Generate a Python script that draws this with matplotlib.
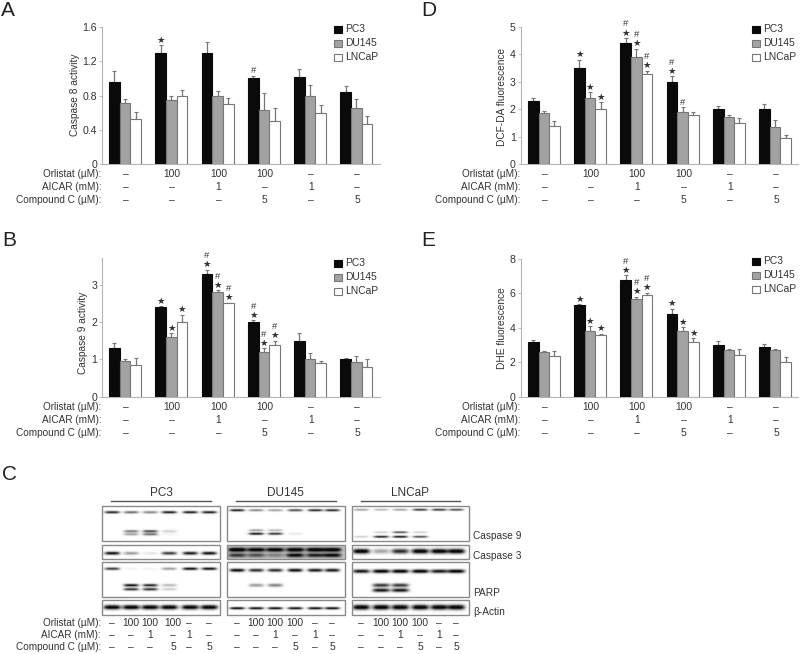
#!/usr/bin/env python3
# -*- coding: utf-8 -*-
"""Five panel figure: caspase activity, ROS fluorescence and western blots."""

import matplotlib
matplotlib.use("Agg")
import matplotlib.pyplot as plt
import numpy as np

plt.rcParams.update({"font.family": ["Liberation Sans", "DejaVu Sans"],
                     "font.size": 7.3, "text.color": "#333333"})

W, H = 800, 654
BLACK = "#0a0a0a"; GREY = "#a2a2a2"; EDGE = "#777777"; AXIS = "#b5b5b5"; INK = "#333333"

SERIES = ["PC3", "DU145", "LNCaP"]
ORLISTAT = ["–", "100", "100", "100", "–", "–"]
AICAR = ["–", "–", "1", "–", "1", "–"]
COMPOUND = ["–", "–", "–", "5", "–", "5"]
ROW_NAMES = ["Orlistat (µM):", "AICAR (mM):", "Compound C (µM):"]

# Panel A
A_VALUES = [[.96, 1.30, 1.30, 1.00, 1.02, .84],
            [.71, .75, .80, .63, .80, .65],
            [.52, .80, .70, .50, .60, .47]]
A_ERRORS = [[.13, .09, .12, .03, .09, .07],
            [.05, .04, .05, .20, .12, .11],
            [.09, .07, .07, .15, .09, .09]]
A_MARKS = [["", "*", "", "#", "", ""], [""] * 6, [""] * 6]
# Panel B
B_VALUES = [[1.30, 2.40, 3.30, 2.00, 1.50, 1.02],
            [.96, 1.60, 2.80, 1.20, 1.02, .94],
            [.84, 2.00, 2.50, 1.40, .90, .80]]
B_ERRORS = [[.15, .03, .10, .05, .20, .03],
            [.05, .10, .05, .10, .15, .15],
            [.20, .20, .02, .10, .05, .20]]
B_MARKS = [["", "*", "*#", "*#", "", ""],
           ["", "*", "*#", "*#", "", ""],
           ["", "*", "*#", "*#", "", ""]]
# Panel D
D_VALUES = [[2.30, 3.50, 4.40, 3.00, 2.00, 2.00],
            [1.85, 2.40, 3.90, 1.90, 1.70, 1.35],
            [1.40, 2.00, 3.30, 1.78, 1.50, .95]]
D_ERRORS = [[.10, .30, .20, .20, .10, .20],
            [.10, .22, .30, .17, .10, .25],
            [.17, .25, .10, .10, .18, .10]]
D_MARKS = [["", "*", "*#", "*#", "", ""],
           ["", "*", "*#", "#", "", ""],
           ["", "*", "*#", "", "", ""]]
# Panel E
E_VALUES = [[3.20, 5.30, 6.80, 4.80, 3.00, 2.90],
            [2.60, 3.80, 5.70, 3.80, 2.70, 2.70],
            [2.35, 3.60, 5.90, 3.20, 2.40, 2.00]]
E_ERRORS = [[.10, .07, .25, .30, .25, .15],
            [.05, .30, .12, .25, .10, .07],
            [.30, .05, .15, .20, .35, .30]]
E_MARKS = [["", "*", "*#", "*", "", ""],
           ["", "*", "*#", "*", "", ""],
           ["", "*", "*#", "*", "", ""]]

# Blots: each band row is (y pixel, intensity per lane)
PC3_CASP9 = [(512, [.9, .6, .5, .95, .95, .95]), (531, [0, .55, .75, .2, 0, 0]), (534, [0, .4, .6, .05, 0, 0])]
PC3_CASP3 = [(553, [1, .4, .1, .8, .95, 1])]
PC3_PARP = [(568.5, [.8, .05, .05, .4, 1, 1]), (585, [0, 1, .9, .3, 0, 0]), (589, [0, .85, .85, .2, 0, 0])]
PC3_ACTIN = [(607, [1.1, 1.1, 1.1, 1.1, 1.1, 1.1])]
DU_CASP9 = [(510, [.95, .5, .4, .75, .9, .9]), (530, [0, .4, .3, 0, 0, 0]), (533.5, [0, 1, .85, .1, 0, 0])]
DU_CASP3 = [(549.5, [1, .9, .9, .95, .95, .95]), (555, [.6, .5, .3, .8, .7, .8])]
DU_PARP = [(570, [1, .85, .85, 1, .95, .95]), (585, [0, .4, .5, 0, 0, 0])]
DU_ACTIN = [(608, [1, 1, 1, 1, 1, 1])]
LN_CASP9 = [(509.5, [.4, .3, .4, .85, .85, .75]), (532, [0, .2, .7, .2, 0, 0]), (536.5, [.2, .95, 1, .75, 0, 0])]
LN_CASP3 = [(551, [1.1, .35, .85, 1.1, 1.1, 1.1])]
LN_PARP = [(571, [.95, 1.1, 1.1, 1.1, .95, 1.1]), (585, [0, .8, .8, 0, 0, 0]), (590, [0, .95, .95, 0, 0, 0])]
LN_ACTIN = [(607, [1.1, 1.1, 1.1, 1.1, 1.1, 1.1])]

PC3_LANES = [112, 131, 150, 169, 190, 209]
DU_LANES = [237, 256, 275, 295, 315, 332]
LN_LANES = [361, 381, 400, 420, 439, 456]
PC3_LABEL_X = [112, 131, 150, 173, 189, 209]
DU_LABEL_X = [237, 256, 275, 295, 315, 332]
LN_LABEL_X = [361, 381, 400, 420, 439, 456]

fig = plt.figure(figsize=(W / 100, H / 100), dpi=100)
page = fig.add_axes([0, 0, 1, 1], zorder=0)
page.set_xlim(0, W); page.set_ylim(H, 0); page.axis("off")


def bar_panel(left, base, top, ymax, ticks, tick_labels, ylabel, label_x, label_y,
              values, errors, marks, legend_x, legend_y):
    ax = fig.add_axes([left / W, 1 - base / H, 277.5 / W, (base - top) / H], zorder=2)
    ax.patch.set_alpha(0)
    xs = np.arange(6)
    width = 0.23
    colors = [BLACK, GREY, "white"]
    edges = [BLACK, EDGE, EDGE]
    for i in range(3):
        pos = xs + (i - 1) * width
        ax.bar(pos, values[i], width, color=colors[i], edgecolor=edges[i],
               linewidth=0.8, label=SERIES[i], zorder=3)
        ax.errorbar(pos, values[i], yerr=[np.zeros(6), errors[i]], fmt="none",
                    ecolor=EDGE, elinewidth=0.9, capsize=1.3, capthick=0.8, zorder=2)
        for j, m in enumerate(marks[i]):
            y = values[i][j] + errors[i][j]
            off = 5
            for ch in m:
                if ch == "*":
                    ax.annotate("★", (pos[j], y), xytext=(0, off), textcoords="offset pixels",
                                ha="center", va="center", fontsize=6.8, color=INK,
                                family="DejaVu Sans")
                else:
                    ax.annotate("#", (pos[j], y), xytext=(0, off), textcoords="offset pixels",
                                ha="center", va="center", fontsize=6.8, color=INK)
                off += 9
    ax.set_xlim(-0.5, 5.5); ax.set_ylim(0, ymax)
    ax.set_yticks(ticks); ax.set_yticklabels(tick_labels, fontsize=7.6, color=INK)
    ax.set_xticks([])
    ax.tick_params(axis="y", length=2, width=0.6, color=AXIS, pad=1.5)
    for s in ["top", "right"]:
        ax.spines[s].set_visible(False)
    for s in ["left", "bottom"]:
        ax.spines[s].set_color(AXIS); ax.spines[s].set_linewidth(0.8)
    page.text(label_x, label_y, ylabel, rotation=90, ha="center", va="center",
              fontsize=7.3, color=INK)
    # treatment table under the bars
    for name, row, ry in zip(ROW_NAMES, [ORLISTAT, AICAR, COMPOUND], [0, 13, 26]):
        page.text(left - 0.5, base + 10 + ry, name, ha="right", va="center", fontsize=7.2, color=INK)
        for k, txt in enumerate(row):
            page.text(left + 24 + 46.25 * k, base + 10 + ry, txt, ha="center", va="center",
                      fontsize=7.4, color=INK)
    # legend swatches
    for i, name in enumerate(SERIES):
        y = legend_y + 14 * i
        page.add_patch(plt.Rectangle((legend_x, y - 3.5), 8, 7, facecolor=colors[i],
                                     edgecolor=edges[i], linewidth=0.8))
        page.text(legend_x + 11, y, name, ha="left", va="center", fontsize=7.4, color=INK)
    return ax


bar_panel(102, 164, 27, 1.6, [0, .4, .8, 1.2, 1.6], ["0", "0.4", "0.8", "1.2", "1.6"],
          "Caspase 8 activity", 75, 95, A_VALUES, A_ERRORS, A_MARKS, 334, 29)
bar_panel(102, 396.7, 258, 3.72, [0, 1, 2, 3], ["0", "1", "2", "3"],
          "Caspase 9 activity", 83, 333, B_VALUES, B_ERRORS, B_MARKS, 334, 263)
bar_panel(520.7, 164, 27, 5, [0, 1, 2, 3, 4, 5], ["0", "1", "2", "3", "4", "5"],
          "DCF-DA fluorescence", 502, 97, D_VALUES, D_ERRORS, D_MARKS, 752, 29)
bar_panel(520.7, 396.7, 259, 8, [0, 2, 4, 6, 8], ["0", "2", "4", "6", "8"],
          "DHE fluorescence", 502, 328, E_VALUES, E_ERRORS, E_MARKS, 752, 261)


def gel(x0, x1, y0, y1, lanes, bands, bg=1.0, band_w=7.5, band_h=1.5):
    """Paint one blot strip as an image, with a soft blob for every band."""
    xx, yy = np.meshgrid(np.arange(x0, x1, 0.5), np.arange(y0, y1, 0.5))
    img = np.full(xx.shape, bg, dtype=float)
    for y, levels in bands:
        for cx, lev in zip(lanes, levels):
            if lev > 0:
                blob = np.exp(-((xx - cx) / band_w) ** 4 - ((yy - y) / band_h) ** 2)
                img -= lev * blob
    page.imshow(np.clip(img, 0.03, 1), extent=(x0, x1, y1, y0), cmap="gray", vmin=0, vmax=1,
                interpolation="bilinear", aspect="auto", zorder=1)
    page.add_patch(plt.Rectangle((x0, y0), x1 - x0, y1 - y0, fill=False, edgecolor="#8a8a8a",
                                 linewidth=1.0, zorder=2))


ROWS_Y = [(506, 541), (545, 559), (562, 597), (600, 615)]
gel(102, 220, *ROWS_Y[0], PC3_LANES, PC3_CASP9, band_h=1.2)
gel(102, 220, *ROWS_Y[1], PC3_LANES, PC3_CASP3)
gel(102, 220, *ROWS_Y[2], PC3_LANES, PC3_PARP, band_h=1.3)
gel(102, 220, *ROWS_Y[3], PC3_LANES, PC3_ACTIN, band_w=8.5, band_h=2.2)
gel(227, 345, *ROWS_Y[0], DU_LANES, DU_CASP9, band_h=1.1)
gel(227, 345, *ROWS_Y[1], DU_LANES, DU_CASP3, bg=.78, band_w=9, band_h=2)
gel(227, 345, *ROWS_Y[2], DU_LANES, DU_PARP, band_h=1.6)
gel(227, 345, *ROWS_Y[3], DU_LANES, DU_ACTIN, band_h=1.2)
gel(352, 469, *ROWS_Y[0], LN_LANES, LN_CASP9, band_h=1.0)
gel(352, 469, *ROWS_Y[1], LN_LANES, LN_CASP3, band_w=8.5, band_h=2.4)
gel(352, 469, *ROWS_Y[2], LN_LANES, LN_PARP, band_w=8.5, band_h=1.8)
gel(352, 469, *ROWS_Y[3], LN_LANES, LN_ACTIN, band_w=8.5, band_h=2.5)
page.set_xlim(0, W); page.set_ylim(H, 0)

for name, tx, lx0, lx1 in [("PC3", 161, 111, 211), ("DU145", 285, 236, 336), ("LNCaP", 410, 361, 460)]:
    page.text(tx, 493, name, ha="center", va="center", fontsize=8.5, color=INK)
    page.plot([lx0, lx1], [501, 501], color="#555555", linewidth=1.0)
for name, y in [("Caspase 9", 536), ("Caspase 3", 556), ("PARP", 593), ("β-Actin", 612)]:
    page.text(473, y, name, ha="left", va="center", fontsize=7.3, color=INK)
for name, row, y in zip(ROW_NAMES, [ORLISTAT, AICAR, COMPOUND], [623, 635, 647]):
    page.text(101, y, name, ha="right", va="center", fontsize=7.2, color=INK)
    for xs in [PC3_LABEL_X, DU_LABEL_X, LN_LABEL_X]:
        for x, txt in zip(xs, row):
            page.text(x, y, txt, ha="center", va="center", fontsize=7.4, color=INK)

for letter, x, y in [("A", 1, 10), ("D", 421, 10), ("B", 2, 240), ("E", 421, 240), ("C", 2, 474)]:
    page.text(x, y, letter, ha="left", va="center", fontsize=15, color="#222222")

fig.savefig("out.png", dpi=100)
plt.close()
